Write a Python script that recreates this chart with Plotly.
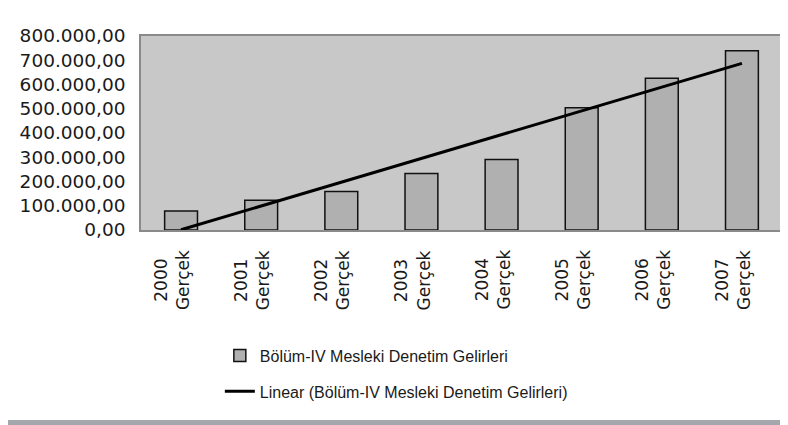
import numpy as np
import plotly.graph_objects as go

years = ["2000", "2001", "2002", "2003", "2004", "2005", "2006", "2007"]
suffix = "Gerçek"
values = [78000, 123000, 159000, 233000, 291000, 504000, 626000, 739000]
y_ticks = [0, 100000, 200000, 300000, 400000, 500000, 600000, 700000, 800000]
y_tick_text = ["0,00", "100.000,00", "200.000,00", "300.000,00", "400.000,00",
               "500.000,00", "600.000,00", "700.000,00", "800.000,00"]
bar_name = "Bölüm-IV Mesleki Denetim Gelirleri"
trend_name = "Linear (Bölüm-IV Mesleki Denetim Gelirleri)"

xi = np.arange(len(values))
slope, intercept = np.polyfit(xi, values, 1)
trend = slope * xi + intercept

fig = go.Figure()
fig.add_trace(go.Bar(
    x=years, y=values, name=bar_name, width=0.41, legendgroup="a",
    marker=dict(color="#b0b0b0", line=dict(color="#111111", width=1.5)),
))
fig.add_trace(go.Scatter(
    x=years, y=trend, name=trend_name, mode="lines", legendgroup="b",
    line=dict(color="#000000", width=3),
))

# category labels (two lines, rotated), drawn as annotations on the category axis
for i, yr in enumerate(years):
    fig.add_annotation(
        x=i, y=0, xref="x", yref="paper", text=f"{yr}<br>{suffix}",
        textangle=-90, xanchor="center", yanchor="top", showarrow=False,
        xshift=-9, yshift=-18, align="center",
        font=dict(family="DejaVu Sans, sans-serif", size=17, color="#1a1a1a"),
    )

fig.update_layout(
    width=780, height=417,
    margin=dict(l=133, r=4, t=28, b=195),
    paper_bgcolor="#ffffff",
    plot_bgcolor="#c8c8c8",
    font=dict(family="Liberation Sans, Arial, sans-serif", size=16, color="#1a1a1a"),
    showlegend=True,
    legend=dict(
        x=0.123, y=-0.56, xanchor="left", yanchor="top",
        orientation="v", bgcolor="rgba(0,0,0,0)",
        font=dict(size=16, color="#1a1a1a"),
        itemwidth=30, tracegroupgap=12,
    ),
)
fig.update_xaxes(
    type="category", categoryorder="array", categoryarray=years,
    range=[-0.5, len(years) - 0.5], autorange=False,
    showticklabels=False, showgrid=False, showline=True, linecolor="#8a8a8a",
    linewidth=1.5, mirror=True, ticks="",
)
fig.update_yaxes(
    range=[0, 800000], tickvals=y_ticks, ticktext=y_tick_text,
    showgrid=False, showline=True, linecolor="#8a8a8a", linewidth=1.5, mirror=True,
    tickfont=dict(family="DejaVu Sans, sans-serif", size=18.5), ticks="",
    zeroline=False, ticklabelstandoff=10,
)
# scan border at bottom of the picture
fig.add_shape(type="rect", xref="paper", yref="paper", x0=-0.3, x1=1.1,
              y0=-1.02, y1=-0.979, fillcolor="#a4a8ac", line=dict(width=0), layer="below")

fig.write_html("out.html")
